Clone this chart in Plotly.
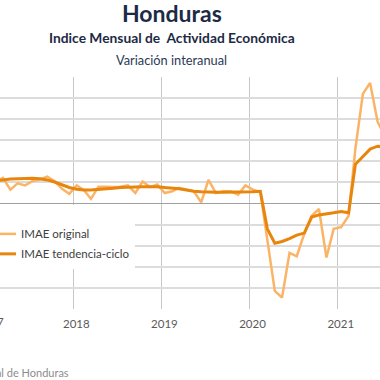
import plotly.graph_objects as go

# Data (year-on-year % change), monthly
months = [
    "2017-01", "2017-02", "2017-03", "2017-04", "2017-05", "2017-06", "2017-07", "2017-08",
    "2017-09", "2017-10", "2017-11", "2017-12",
    "2018-01", "2018-02", "2018-03", "2018-04", "2018-05", "2018-06", "2018-07", "2018-08",
    "2018-09", "2018-10", "2018-11", "2018-12",
    "2019-01", "2019-02", "2019-03", "2019-04", "2019-05", "2019-06", "2019-07", "2019-08",
    "2019-09", "2019-10", "2019-11", "2019-12",
    "2020-01", "2020-02", "2020-03", "2020-04", "2020-05", "2020-06", "2020-07", "2020-08",
    "2020-09", "2020-10", "2020-11", "2020-12",
    "2021-01", "2021-02", "2021-03", "2021-04", "2021-05", "2021-06", "2021-07",
]
imae_original = [
    4.6, 5.2, 6.1, 3.3, 4.8, 4.3, 5.3, 5.7, 6.4, 5.3, 3.5, 2.3,
    4.3, 3.1, 1.1, 4.0, 4.0, 3.9, 4.0, 4.3, 2.5, 5.2, 3.9, 4.5,
    2.5, 2.9, 3.7, 3.3, 2.9, 0.3, 5.6, 2.5, 2.9, 2.9, 2.1, 4.3,
    3.3, 2.7, -9.0, -20.7, -22.3, -11.7, -12.5, -7.2, -2.9, -1.3, -12.8, -6.0,
    -5.6, -2.9, 13.0, 26.0, 28.6, 19.4, 16.0,
]
imae_tendencia = [
    5.3, 5.4, 5.6, 5.8, 5.9, 6.0, 6.0, 5.9, 5.6, 5.1, 4.4, 3.8,
    3.4, 3.2, 3.2, 3.3, 3.5, 3.6, 3.8, 3.9, 4.0, 4.0, 4.0, 4.0,
    3.8, 3.7, 3.5, 3.2, 2.9, 2.8, 2.7, 2.7, 2.7, 2.7, 2.7, 2.7,
    2.8, 2.9, -6.0, -9.4, -9.0, -8.3, -7.5, -7.0, -3.2, -2.7, -2.5, -2.2,
    -1.9, -2.2, 9.3, 11.2, 12.9, 13.6, 13.3,
]
year_ticks = ["2018-01-01", "2019-01-01", "2020-01-01", "2021-01-01"]
year_labels = ["2018", "2019", "2020", "2021"]

dates = [m + "-15" for m in months]

fig = go.Figure()
fig.add_trace(go.Scatter(
    x=dates, y=imae_original, mode="lines", name="IMAE original",
    line=dict(color="#FBB466", width=2.5), legendgroup="a",
))
fig.add_trace(go.Scatter(
    x=dates, y=imae_tendencia, mode="lines", name="IMAE tendencia-ciclo",
    line=dict(color="#E8850C", width=3), legendgroup="b",
))

title_font = "Lato, 'Open Sans', sans-serif"
anns = [
    dict(text="<b>Honduras</b>", x=0.453, y=1.276, font=dict(size=23, color="#1D2A45", family=title_font)),
    dict(text="<b>Indice Mensual de  Actividad Económica</b>", x=0.453, y=1.172,
         font=dict(size=13.8, color="#1D2A45", family=title_font)),
    dict(text="Variación interanual", x=0.451, y=1.0754,
         font=dict(size=12.8, color="#2B3A55", family=title_font)),
    dict(text="2017", x=-0.026, y=-0.052, font=dict(size=11.5, color="#595959", family=title_font)),
    dict(text="Fuente: Banco Central de Honduras", x=0.186, y=-0.2716, xanchor="right",
         font=dict(size=11, color="#8C8C8C", family=title_font)),
]
for a in anns:
    a.setdefault("xanchor", "center")
    a.update(xref="paper", yref="paper", yanchor="middle", showarrow=False)

fig.update_layout(
    width=380, height=380,
    margin=dict(l=0, r=0, t=77, b=71, autoexpand=False),
    paper_bgcolor="white", plot_bgcolor="white",
    annotations=anns,
    showlegend=True,
    legend=dict(
        x=-0.05, y=0.448, xanchor="left", yanchor="top",
        bgcolor="white", traceorder="grouped", tracegroupgap=1,
        title=dict(text=" ", font=dict(size=11)),
        font=dict(size=11.5, color="#404040", family=title_font),
    ),
    xaxis=dict(
        type="date", range=["2017-03-03", "2021-06-25"],
        tickvals=year_ticks, ticktext=year_labels,
        showgrid=True, gridcolor="#C8C8C8", gridwidth=1,
        showline=False, zeroline=False,
        ticks="outside", ticklen=4, tickcolor="rgba(0,0,0,0)",
        tickfont=dict(size=11.5, color="#595959", family=title_font),
        ticklabelshift=3,
    ),
    yaxis=dict(
        range=[-25, 30], dtick=5, tick0=0,
        showgrid=True, gridcolor="#DCDCDC", gridwidth=1.5,
        zeroline=True, zerolinecolor="#A0A0A0", zerolinewidth=1.2,
        showticklabels=False, showline=False,
    ),
)

fig.write_html("out.html", config={"displayModeBar": False},
               post_script="document.body.style.margin='0';")
